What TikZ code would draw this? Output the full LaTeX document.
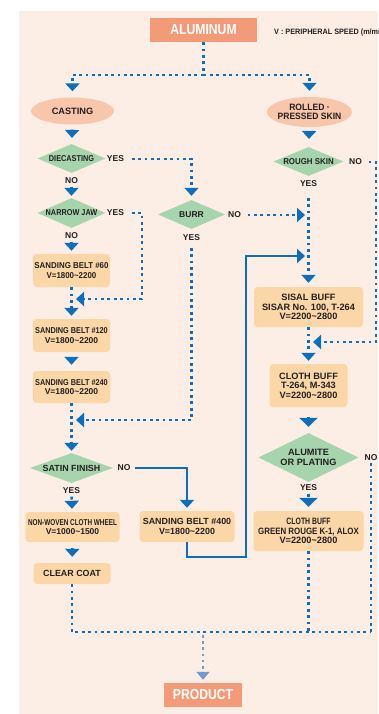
\documentclass[tikz,border=0pt]{standalone}
\usepackage{fontspec}
\setmainfont{Liberation Sans}
\newfontfamily\fbig{Liberation Sans}[FakeStretch=0.84]
\newfontfamily\fc{Liberation Sans}[FakeStretch=0.86]
\newfontfamily\fcc{Liberation Sans}[FakeStretch=0.75]
\newfontfamily\fs{Liberation Sans}[FakeStretch=0.93]
\usetikzlibrary{shapes.geometric,arrows.meta}
\definecolor{bgc}{HTML}{FCEEE5}
\definecolor{salm}{HTML}{F39A78}
\definecolor{ellc}{HTML}{F8C6AB}
\definecolor{dgr}{HTML}{A6D5AD}
\definecolor{boxc}{HTML}{FBD7A8}
\definecolor{bl}{HTML}{0B6FBD}
\definecolor{pbl}{HTML}{7199D2}
\definecolor{txt}{HTML}{231F20}
\newcommand\tA{\bfseries\fontsize{8.5}{9.5}\selectfont}
\newcommand\tB{\bfseries\fontsize{9.2}{9.6}\selectfont}
\begin{document}
\begin{tikzpicture}[x=1pt,y=-1pt,
  every node/.style={text=txt},
  bigbox/.style={fill=salm, inner sep=0pt, minimum width=#1, minimum height=24pt, text=white, font=\fbig\bfseries\fontsize{14.5}{15}\selectfont},
  ellnode/.style={ellipse, fill=ellc, inner sep=0pt, align=center, font=\tB},
  dia/.style={diamond, fill=dgr, inner sep=0pt, align=center, font=\tA},
  bx/.style={rounded corners=3.5pt, fill=boxc, inner sep=0pt, align=center, font=\tA},
  lbl/.style={inner sep=0.5pt, font=\tA},
  dl/.style={draw=bl, line width=2.8pt, dash pattern=on 2.8pt off 3.6pt},
  dla/.style={dl, -{Triangle[width=14pt,length=8pt]}},
  dlab/.style={dl, -{Triangle[width=18pt,length=9pt]}},
  sl/.style={draw=bl, line width=2.6pt},
  sla/.style={sl, -{Triangle[width=14pt,length=8pt]}},
  pla/.style={draw=pbl, line width=2.6pt, dash pattern=on 2.6pt off 3.6pt, -{Triangle[width=13pt,length=8pt]}}
]
\clip (0,0) rectangle (378,714);
\useasboundingbox (0,0) rectangle (378,714);
\fill[bgc] (19,11) rectangle (378,714);

% top
\node[bigbox=107pt] (alu) at (203.5,30) {ALUMINUM};
\node[anchor=west, inner sep=0pt, font=\fs\bfseries\fontsize{7.8}{8}\selectfont] (speed) at (274,32) {V : PERIPHERAL SPEED (m/min)};
\node[ellnode, minimum width=83pt, minimum height=27pt] (cast) at (72.5,111) {CASTING};
\node[ellnode, minimum width=85pt, minimum height=30pt, inner xsep=-12pt, font=\fs\tB] (roll) at (309.5,112) {ROLLED ·\\PRESSED SKIN};

% left column
\node[dia, minimum width=68pt, minimum height=29pt, shape aspect=2.34, font=\fc\tA] (die) at (71.5,158.5) {DIECASTING};
\node[lbl] (dieY) at (115.5,159) {YES};
\node[lbl] (dieN) at (71.5,181) {NO};
\node[dia, minimum width=68pt, minimum height=30pt, shape aspect=2.27, font=\fc\tA] (narrow) at (71.5,213) {NARROW JAW};
\node[lbl] (narY) at (115.5,213) {YES};
\node[lbl] (narN) at (71.5,236) {NO};
\node[bx, minimum width=77pt, minimum height=33pt, font=\fs\tA] (sb60) at (71.5,270.5) {SANDING BELT \#60\\V=1800\textasciitilde2200};
\node[bx, minimum width=77pt, minimum height=33pt] (sb120) at (71.5,335.5) {{\fc SANDING BELT \#120}\\V=1800\textasciitilde2200};
\node[bx, minimum width=77pt, minimum height=32pt] (sb240) at (71.5,387) {{\fc SANDING BELT \#240}\\V=1800\textasciitilde2200};
\node[dia, minimum width=83pt, minimum height=30pt, shape aspect=2.77, font=\bfseries\fontsize{8.9}{9.5}\selectfont] (satin) at (71.5,468) {SATIN FINISH};
\node[lbl] (satinN) at (124,468) {NO};
\node[lbl] (satinY) at (71.5,491) {YES};
\node[bx, minimum width=94pt, minimum height=30pt] (nonwoven) at (72.5,527) {{\fcc NON-WOVEN CLOTH WHEEL}\\V=1000\textasciitilde1500};
\node[bx, minimum width=77pt, minimum height=21pt, font=\bfseries\fontsize{8.9}{9.5}\selectfont] (clear) at (72,573.5) {CLEAR COAT};

% middle column
\node[dia, minimum width=67pt, minimum height=29pt, shape aspect=2.31] (burr) at (191.5,214.5) {BURR};
\node[lbl] (burrN) at (234.5,215) {NO};
\node[lbl] (burrY) at (191.5,238) {YES};
\node[bx, minimum width=95pt, minimum height=31pt, font=\bfseries\fontsize{8.9}{9.5}\selectfont] (sb400) at (187,526.5) {SANDING BELT \#400\\V=1800\textasciitilde2200};

% right column
\node[dia, minimum width=70pt, minimum height=29pt, shape aspect=2.41, font=\fs\tA] (rough) at (308.5,161.5) {ROUGH SKIN};
\node[lbl] (roughN) at (355.5,162) {NO};
\node[lbl] (roughY) at (308.5,184) {YES};
\node[bx, minimum width=109pt, minimum height=40pt, font=\tB] (sisal) at (308.5,307) {SISAL BUFF\\SISAR No. 100, T-264\\V=2200\textasciitilde2800};
\node[bx, minimum width=78pt, minimum height=43pt, font=\tB] (cloth1) at (308.5,385.5) {CLOTH BUFF\\T-264, M-343\\V=2200\textasciitilde2800};
\node[dia, minimum width=100pt, minimum height=49pt, shape aspect=2.04, font=\bfseries\fontsize{9.2}{10}\selectfont] (alumite) at (308.5,457.5) {ALUMITE\\OR PLATING};
\node[lbl] (aluY) at (308.5,488) {YES};
\node[lbl] (aluN) at (371,458) {NO};
\node[bx, minimum width=110pt, minimum height=40pt, font=\tB] (cloth2) at (308.5,531) {{\fcc CLOTH BUFF}\\{\fc GREEN ROUGE K-1, ALOX}\\V=2200\textasciitilde2800};

% bottom
\node[bigbox=78pt] (product) at (203,695) {PRODUCT};

% connectors
\coordinate (split) at (203.5,75);
\draw[dl] (alu) -- (split);
\draw[dla, shorten >=6pt] (split) -| (cast);
\draw[dla, shorten >=6pt] (split) -| (roll);
\draw[dla, shorten <=5pt, shorten >=6pt] (cast) -- (die);
\draw[dla, shorten <=4pt, shorten >=8pt] (roll) -- (rough);

\draw[dla, shorten <=7pt, shorten >=4pt] (dieY) -| (burr);
\draw[dla, shorten <=2pt, shorten >=2pt] (dieN) -- (narrow);
\coordinate (c1) at (142,299);
\coordinate (m1) at (76,299);
\draw[dla, shorten <=7pt] (narY) -| (c1) -- (m1);
\draw[dla, shorten <=2pt, shorten >=3pt] (narN) -- (sb60);
\draw[dla, shorten >=3pt] (sb60) -- (sb120);
\draw[dla, shorten <=5pt, shorten >=6pt] (sb120) -- (sb240);

\coordinate (c2) at (191.5,420);
\coordinate (m2) at (76,420);
\draw[dla, shorten <=6pt] (burrY) -- (c2) -- (m2);
\coordinate (m3) at (305,215);
\draw[dla, shorten <=6pt] (burrN) -- (m3);

\draw[dla, shorten <=10pt, shorten >=4pt] (roughY) -- (sisal);
\coordinate (c3) at (376,342);
\coordinate (m4) at (313,342);
\draw[dla, shorten <=6pt] (roughN) -| (c3) -- (m4);

\draw[dla, shorten >=2pt] (sb240) -- (satin);
\draw[sla, shorten <=4pt, shorten >=3pt] (satinN) -| (sb400);
\coordinate (c4) at (246,557);
\coordinate (c5) at (246,256);
\coordinate (m5) at (305,256);
\draw[sla] (sb400) |- (c4) -- (c5) -- (m5);
\draw[dla, shorten <=2pt, shorten >=3pt] (satinY) -- (nonwoven);
\draw[dla, shorten <=6pt, shorten >=6pt] (nonwoven) -- (clear);

\draw[dla, shorten >=3pt] (sisal) -- (cloth1);
\draw[dlab, shorten <=10pt, shorten >=6pt] (cloth1) -- (alumite);
\draw[dlab, shorten <=2pt, shorten >=4pt] (aluY) -- (cloth2);

\coordinate (b1) at (371,632);
\coordinate (b2) at (308.5,632);
\coordinate (b3) at (203,632);
\draw[dl] (clear) |- (b1);
\draw[dl, shorten <=1pt] (aluN) -- (b1);
\draw[dl] (cloth2) -- (b2);
\draw[pla, shorten <=3pt, shorten >=3pt] (b3) -- (product);
\end{tikzpicture}
\end{document}
